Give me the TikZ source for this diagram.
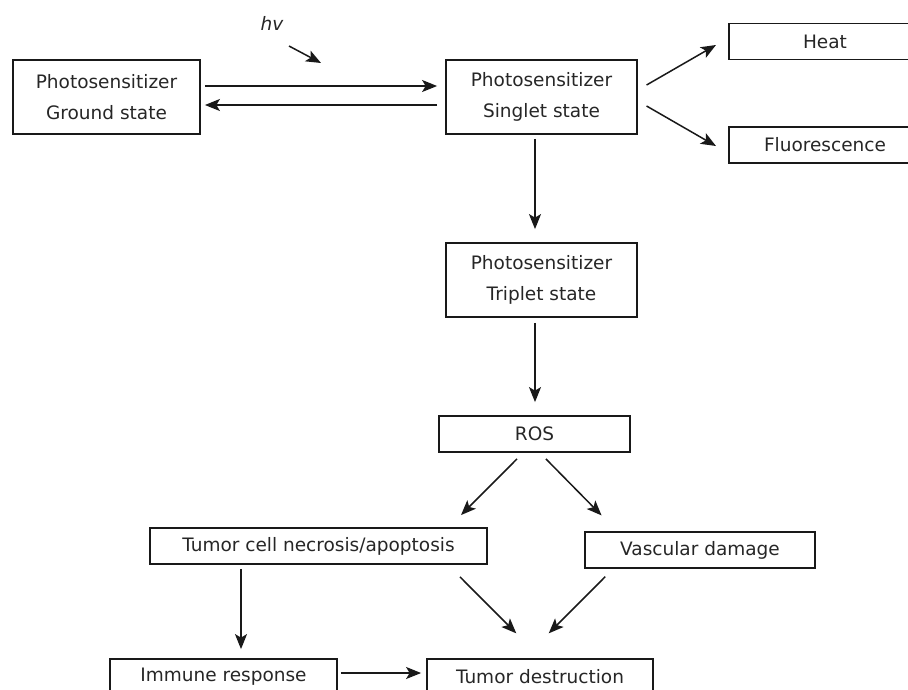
\documentclass[tikz,border=0pt]{standalone}
\usepackage{fontspec}
\setmainfont{DejaVu Sans}
\usepackage{tikz}
\usetikzlibrary{positioning}
\usetikzlibrary{arrows.meta}

\tikzset{
	pbox/.style={draw=black!90, line width=1.8pt, inner sep=0pt, text=black!85,
		minimum height=36pt, align=center, font=\fontsize{18.5}{31}\selectfont},
	tallbox/.style={pbox, minimum height=74pt},
	flow/.style={->, line width=1.5pt, color=black!90}
}

\begin{document}
\begin{tikzpicture}[>={Stealth[length=15pt,width=12pt,inset=3.5pt]}, x=1pt, y=-1pt]
				\path[use as bounding box, clip] (0,0) rectangle (908,689);

				\node[tallbox, minimum width=187pt]	(ground)	at (106.5,97)	{Photosensitizer\\Ground state};
				\node[tallbox, minimum width=191pt]	(singlet)	at (541.5,97)	{Photosensitizer\\Singlet state};
				\node[pbox, minimum width=192pt]	(heat)	at (825,41.5)	{Heat};
				\node[pbox, minimum width=192pt]	(fluor)	at (825,145)	{Fluorescence};
				\node[tallbox, minimum width=191pt]	(triplet)	at (541.5,280)	{Photosensitizer\\Triplet state};
				\node[pbox, minimum width=191pt]	(ros)	at (534.5,434)	{ROS};
				\node[pbox, minimum width=337pt]	(tumorcell)	at (318.5,546)	{Tumor cell necrosis/apoptosis};
				\node[pbox, minimum width=230pt]	(vascular)	at (700,550)	{Vascular damage};
				\node[pbox, minimum width=227pt]	(immune)	at (223.5,677)	{Immune response};
				\node[pbox, minimum width=226pt]	(tumordest)	at (540,677)	{Tumor destruction};

				\node[text=black!85, font=\fontsize{18.5}{20}\selectfont\itshape]	(hv)	at (272,23)	{hv};
				\coordinate (hvstart) at (289,46);
				\coordinate (hvend) at (321,63);

				\path[flow]
				(hvstart) edge (hvend)

				([yshift=11pt]ground.east) edge [shorten <=4pt, shorten >=8pt] ([yshift=11pt]singlet.west)
				([yshift=-8pt]singlet.west) edge [shorten <=8pt, shorten >=4pt] ([yshift=-8pt]ground.east)

				([yshift=7pt]singlet.east) edge [shorten <=10pt, shorten >=14pt] ([yshift=3.5pt]heat.west)
				([yshift=-4pt]singlet.east) edge [shorten <=10pt, shorten >=14pt] ([yshift=-8pt]fluor.west)

				([xshift=-6.5pt]singlet.south) edge [shorten <=4pt, shorten >=13pt] ([xshift=-6.5pt]triplet.north)
				([xshift=-6.5pt]triplet.south) edge [shorten <=5pt, shorten >=13pt] ([xshift=0.5pt]ros.north)

				([xshift=-11.5pt]ros.south) edge [shorten <=8.5pt, shorten >=17pt] ([xshift=130.5pt]tumorcell.north)
				([xshift=5.5pt]ros.south) edge [shorten <=8.5pt, shorten >=22pt] ([xshift=-83pt]vascular.north)

				([xshift=-77.5pt]tumorcell.south) edge [shorten <=4pt, shorten >=9pt] ([xshift=17.5pt]immune.north)
				([xshift=129.5pt]tumorcell.south) edge [shorten <=17pt, shorten >=35pt] ([xshift=1pt]tumordest.north)
				([xshift=-87pt]vascular.south) edge [shorten <=11pt, shorten >=35pt] ([xshift=-16pt]tumordest.north)
				([yshift=4pt]immune.east) edge [shorten <=3pt, shorten >=5pt] ([yshift=4pt]tumordest.west)
				;
\end{tikzpicture}
\end{document}
